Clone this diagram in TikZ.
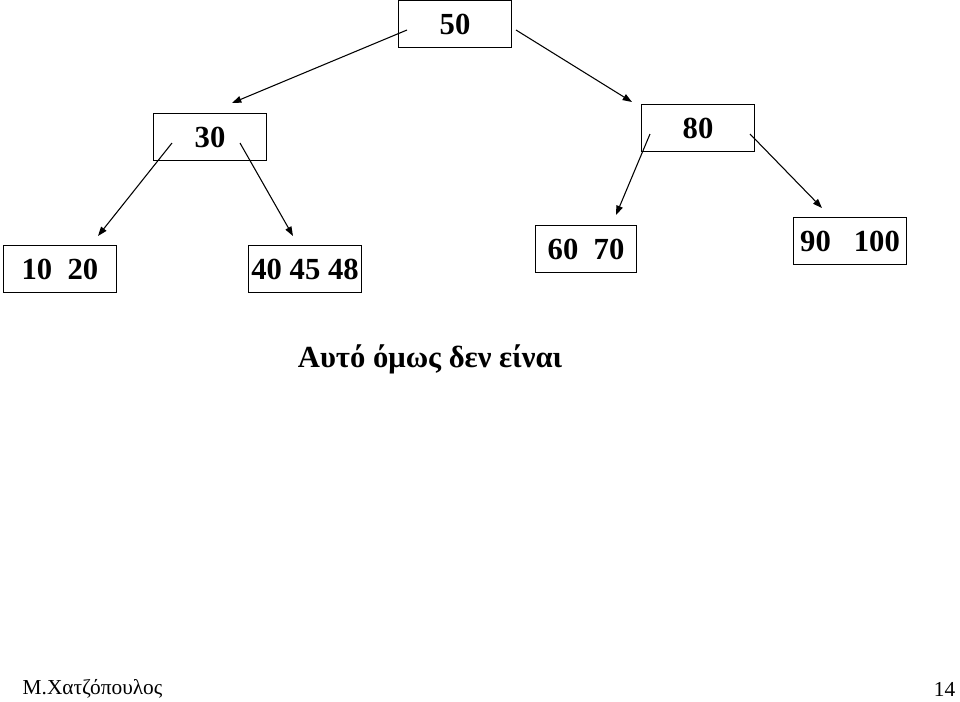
\documentclass[tikz,border=0pt]{standalone}
\usepackage{fontspec}
\setmainfont{Liberation Serif}
\usetikzlibrary{arrows.meta}
\tikzset{
  keybox/.style = {draw, thick, inner sep = 0pt, minimum width = 113*0.75pt,
    minimum height = 47*0.75pt, font = \fontsize{23}{27}\selectfont\bfseries},
  branch/.style = {thick, -{Triangle[length = 7pt, width = 5pt]}}
}
\begin{document}
\begin{tikzpicture}[x = 0.75pt, y = -0.75pt]
\useasboundingbox (0,0) rectangle (960,701);
% keys
\node[keybox] (k50) at (455,24) {50};
\node[keybox] (k30) at (210,137) {30};
\node[keybox] (k80) at (698,128) {80};
\node[keybox] (k1020) at (60,269) {10\ \ 20};
\node[keybox] (k404548) at (305,269) {40 45 48};
\node[keybox, minimum width = 101*0.75pt] (k6070) at (586,249) {60\ \ 70};
\node[keybox] (k90100) at (850,241) {90\ \ \ 100};
% arrow ends
\coordinate (s50l) at (407,30);
\coordinate (s50r) at (516,30);
\coordinate (s30l) at (172,143);
\coordinate (s30r) at (240,143);
\coordinate (s80l) at (650,134);
\coordinate (s80r) at (750,134);
\coordinate (e30) at (232,103);
\coordinate (e80) at (632,102);
\coordinate (e1020) at (98,236);
\coordinate (e404548) at (293,236);
\coordinate (e6070) at (616,215);
\coordinate (e90100) at (822,208);
\draw[branch] (s50l) -- (e30);
\draw[branch] (s50r) -- (e80);
\draw[branch] (s30l) -- (e1020);
\draw[branch] (s30r) -- (e404548);
\draw[branch] (s80l) -- (e6070);
\draw[branch] (s80r) -- (e90100);
% caption and footer
\node[font = \fontsize{23}{27}\selectfont\bfseries] (note) at (430,359) {Αυτό όμως δεν είναι};
\node[anchor = west, font = \fontsize{16}{18}\selectfont] (author) at (18,689) {Μ.Χατζόπουλος};
\node[anchor = east, font = \fontsize{16}{18}\selectfont] (page) at (960,689) {14};
\end{tikzpicture}
\end{document}
